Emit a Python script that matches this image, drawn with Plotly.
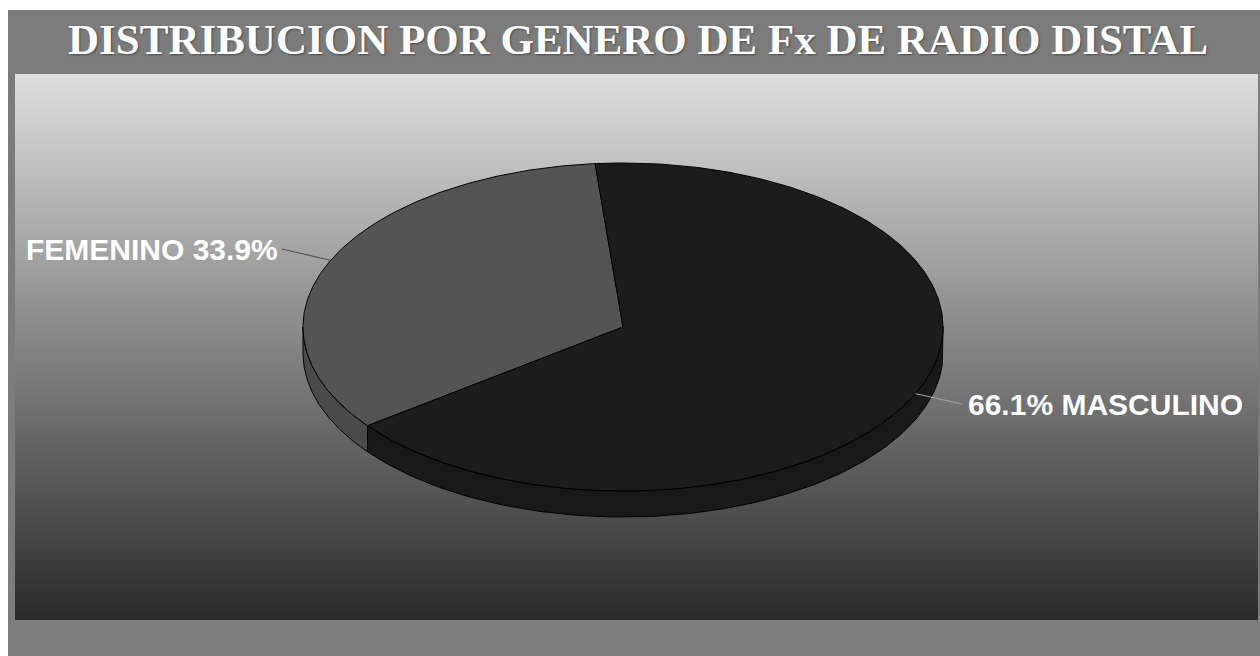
import numpy as np
import plotly.graph_objects as go

# Data
categories = ["FEMENINO", "MASCULINO"]
percentages = [33.9, 66.1]

# Colours per slice: top face and side wall
top_colors = ["#545454", "#1c1c1c"]
side_colors = ["#4a4a4a", "#191919"]

# Canvas and pie geometry (pixel-like units, y grows downward)
W, H = 1260, 656
CX, CY = 623, 327          # ellipse centre
RX, RY = 320, 164          # ellipse radii
DEPTH = 26                 # thickness of the 3D disc
START_DEG = 95             # first slice begins here, going counter-clockwise

PANEL = (15, 74, 1258, 620)

fig = go.Figure()


def rim(deg, drop=0.0):
    a = np.radians(deg)
    return CX + RX * np.cos(a), CY - RY * np.sin(a) + drop


# Gradient panel behind the pie
x0, y0, x1, y1 = PANEL
fig.add_trace(go.Scatter(
    x=[x0, x1, x1, x0, x0], y=[y0, y0, y1, y1, y0],
    mode="lines", line=dict(width=0), fill="toself",
    fillgradient=dict(type="vertical", start=y0, stop=y1,
                      colorscale=[[0, "#dedede"], [1, "#2a2a2a"]]),
    hoverinfo="skip", showlegend=False,
))

# Slice angle spans
total = sum(percentages)
spans = []
a = START_DEG
for p in percentages:
    sweep = 360.0 * p / total
    spans.append((a, a + sweep))
    a += sweep

# Side walls (only the front half of the disc is visible)
for (a1, a2), col in zip(spans, side_colors):
    for lo_front, hi_front in [(180, 360), (540, 720)]:
        lo, hi = max(a1, lo_front), min(a2, hi_front)
        if hi <= lo:
            continue
        t = np.linspace(lo, hi, 120)
        xs_top, ys_top = rim(t)
        xs_bot, ys_bot = rim(t[::-1], DEPTH)
        xs = np.concatenate([xs_top, xs_bot, xs_top[:1]])
        ys = np.concatenate([ys_top, ys_bot, ys_top[:1]])
        fig.add_trace(go.Scatter(
            x=xs, y=ys, mode="lines", fill="toself", fillcolor=col,
            line=dict(color="#000000", width=1),
            hoverinfo="skip", showlegend=False,
        ))

# Top faces
for (a1, a2), col in zip(spans, top_colors):
    t = np.linspace(a1, a2, 240)
    xs, ys = rim(t)
    xs = np.concatenate([[CX], xs, [CX]])
    ys = np.concatenate([[CY], ys, [CY]])
    fig.add_trace(go.Scatter(
        x=xs, y=ys, mode="lines", fill="toself", fillcolor=col,
        line=dict(color="#000000", width=1),
        hoverinfo="skip", showlegend=False,
    ))

# Labels with leader lines from each slice's mid-angle
label_anchor = [(282, 249, "right", "#4a4a4a"), (962, 404, "left", "#a8a8a8")]
for name, pct, (a1, a2), (lx, ly, side, lc) in zip(categories, percentages, spans, label_anchor):
    mx, my = rim((a1 + a2) / 2)
    fig.add_trace(go.Scatter(
        x=[mx, lx], y=[my, ly], mode="lines",
        line=dict(color=lc, width=1), hoverinfo="skip", showlegend=False,
    ))
    text = f"{name} {pct:.1f}%" if side == "right" else f"{pct:.1f}% {name}"
    fig.add_annotation(
        x=lx + (-2 if side == "right" else 4), y=ly, xref="x", yref="y",
        text=text, showarrow=False, xanchor=side, yanchor="middle",
        font=dict(family="Liberation Sans, Arial", size=30, color="#ffffff",
                  weight="bold"),
    )

# Title
fig.add_annotation(
    x=638, y=39, xref="x", yref="y",
    text="DISTRIBUCION POR GENERO DE Fx DE RADIO DISTAL",
    showarrow=False, xanchor="center", yanchor="middle",
    font=dict(family="Liberation Serif, Times New Roman", size=43,
              color="#ffffff", weight="bold", shadow="1px 1px 2px #4a4a4a"),
)

# Stone-grey frame behind everything
fig.add_shape(type="rect", xref="x", yref="y", x0=8, y0=10, x1=W, y1=H,
              fillcolor="#7c7c7c", line=dict(width=0), layer="below")

fig.update_layout(
    width=W, height=H,
    margin=dict(l=0, r=0, t=0, b=0),
    paper_bgcolor="#ffffff", plot_bgcolor="rgba(0,0,0,0)",
    xaxis=dict(range=[0, W], visible=False, fixedrange=True),
    yaxis=dict(range=[H, 0], visible=False, fixedrange=True),
    hovermode=False, showlegend=False,
)

fig.write_html("out.html", config={"displayModeBar": False})
